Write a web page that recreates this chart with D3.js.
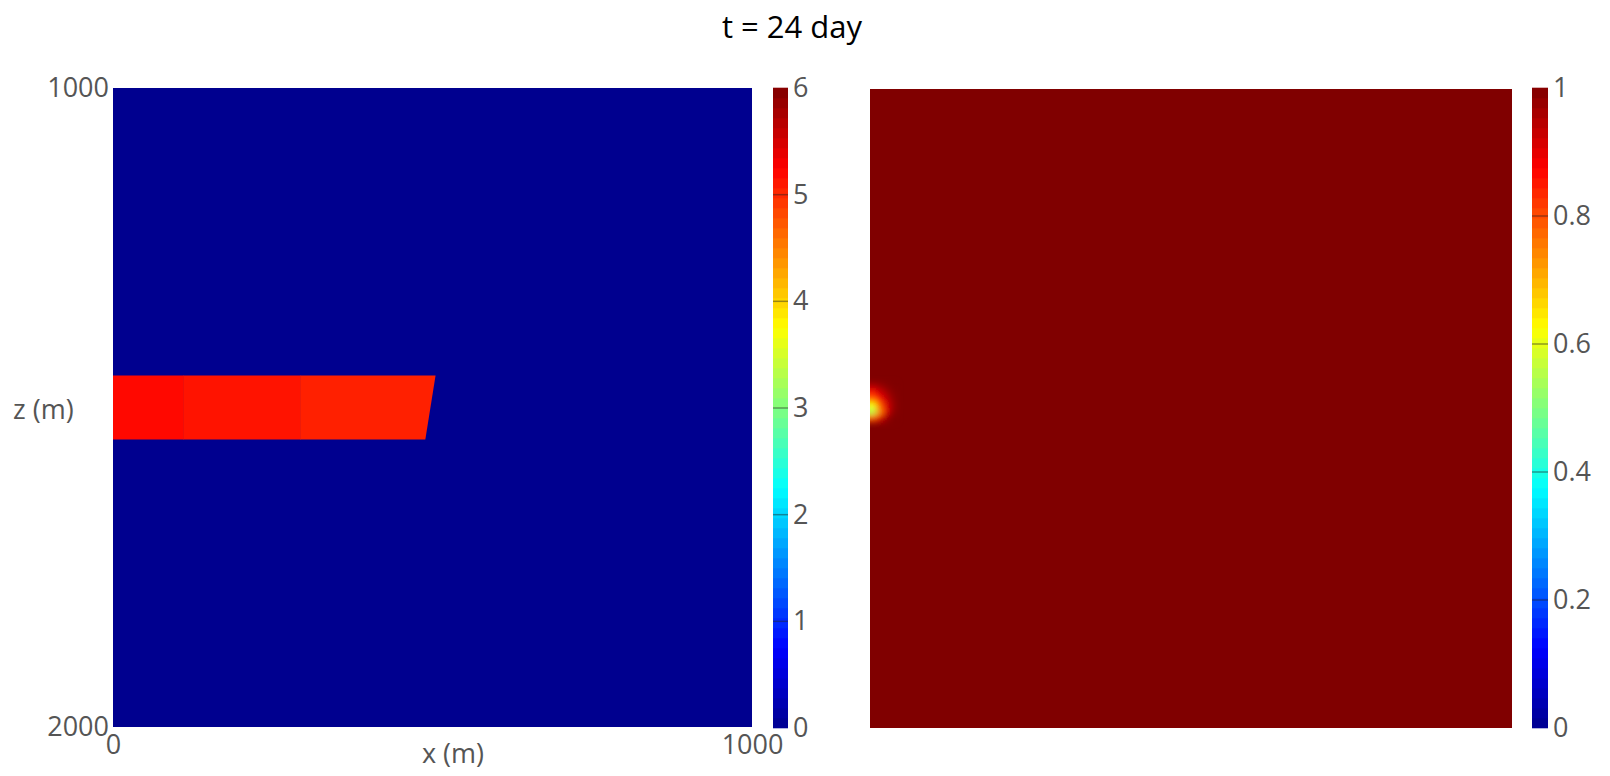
<!DOCTYPE html>
<html>
<head>
<meta charset="utf-8">
<title>t = 24 day</title>
<script src="https://d3js.org/d3.v7.min.js"></script>
<style>
  body { margin: 0; background: #fff; }
  .tick text, .axis-label { font-family: "Open Sans", sans-serif; font-size: 27px; fill: #555; }
  .domain { display: none; }
  .title { font-family: "Open Sans", sans-serif; font-size: 31px; fill: #000; }
</style>
</head>
<body>
<svg id="chart" width="1610" height="776"></svg>
<script>
// ---- data ----
var titleText = "t = 24 day";
var xDomain = [0, 1000];          // x (m)
var zDomain = [1000, 2000];       // z (m), top -> bottom
var xTicks = [0, 1000];
var zTicks = [1000, 2000];

// left panel: field value (0..6), background value and the injected band
var leftBackground = 0;
var leftRange = [0, 6];
var leftCbTicks = [0, 1, 2, 3, 4, 5, 6];
var bandZ = [1450, 1550];
var bandX0 = [0, 110, 293];
var bandX1Top = [110, 293, 504];
var bandX1Bottom = [110, 293, 488];
var bandValues = [5.2, 5.14, 5.06];

// right panel: saturation (0..1), background 1 plus a small disturbed patch
var rightBackground = 1;
var rightRange = [0, 1];
var rightCbTicks = [0, 0.2, 0.4, 0.6, 0.8, 1];
var satX = [0, 10, 20, 30];                   // cell left edges (m), 10 m wide
var satZ = [1460, 1470, 1480, 1490, 1500, 1510]; // cell top edges (m), 10 m tall
var satValues = [
  [0.95, 0.97, 0.99, 1.0],
  [0.86, 0.92, 0.96, 0.99],
  [0.78, 0.86, 0.93, 0.98],
  [0.62, 0.78, 0.9, 0.97],
  [0.55, 0.74, 0.9, 0.98],
  [0.78, 0.9, 0.97, 1.0]
];

// ---- jet colormap (matlab style) ----
var jet = d3.scaleLinear()
  .domain([0, 0.125, 0.375, 0.625, 0.875, 1])
  .range(["#00008f", "#0000ff", "#00ffff", "#ffff00", "#ff0000", "#800000"])
  .clamp(true);

var svg = d3.select("#chart");

svg.append("text").attr("class", "title")
  .attr("x", 792).attr("y", 38).attr("text-anchor", "middle")
  .text(titleText);

var defs = svg.append("defs");
defs.append("filter").attr("id", "soft")
  .attr("x", "-50%").attr("y", "-50%").attr("width", "200%").attr("height", "200%")
  .append("feGaussianBlur").attr("stdDeviation", 3);

function panel(left, right, top, bottom, id) {
  var x = d3.scaleLinear().domain(xDomain).range([left, right]);
  var z = d3.scaleLinear().domain(zDomain).range([top, bottom]);
  defs.append("clipPath").attr("id", id)
    .append("rect").attr("x", left).attr("y", top)
    .attr("width", right - left).attr("height", bottom - top);
  var g = svg.append("g").attr("clip-path", "url(#" + id + ")");
  return {x: x, z: z, g: g};
}

function colorbar(x0, x1, top, bottom, range, ticks) {
  var n = 64;
  var y = d3.scaleLinear().domain(range).range([bottom, top]);
  var band = d3.scaleBand().domain(d3.range(n)).range([bottom, top]);
  var g = svg.append("g");
  g.selectAll("rect").data(d3.range(n)).enter().append("rect")
    .attr("x", x0).attr("width", x1 - x0)
    .attr("y", function(d) { return band(d) - 0.3; })
    .attr("height", band.bandwidth() + 0.6)
    .attr("fill", function(d) { return jet((d + 0.5) / n); });
  g.selectAll("line").data(ticks.slice(1, -1)).enter().append("line")
    .attr("x1", x0).attr("x2", x1)
    .attr("y1", function(d) { return y(d); }).attr("y2", function(d) { return y(d); })
    .attr("stroke", "#222").attr("stroke-opacity", 0.45).attr("stroke-width", 1.5);
  svg.append("g").attr("transform", "translate(" + (x1 + 1) + ",0)")
    .call(d3.axisRight(y).tickValues(ticks).tickSize(0).tickPadding(4)
      .tickFormat(d3.format("~g")));
}

// ---- left panel ----
var L = panel(113, 752, 88, 727, "clipL");
var lnorm = d3.scaleLinear().domain(leftRange).range([0, 1]);
L.g.append("rect").attr("x", L.x(0)).attr("y", L.z(1000))
  .attr("width", L.x(1000) - L.x(0)).attr("height", L.z(2000) - L.z(1000))
  .attr("fill", jet(lnorm(leftBackground)));
L.g.selectAll("polygon").data(bandValues).enter().append("polygon")
  .attr("points", function(d, i) {
    return [[L.x(bandX0[i]), L.z(bandZ[0])], [L.x(bandX1Top[i]) + 0.5, L.z(bandZ[0])],
            [L.x(bandX1Bottom[i]) + 0.5, L.z(bandZ[1])], [L.x(bandX0[i]), L.z(bandZ[1])]].join(" ");
  })
  .attr("fill", function(d) { return jet(lnorm(d)); });

svg.append("g").attr("transform", "translate(113,0)")
  .call(d3.axisLeft(L.z).tickValues(zTicks).tickSize(0).tickPadding(4).tickFormat(d3.format("d")));
svg.append("g").attr("transform", "translate(0,727)")
  .call(d3.axisBottom(L.x).tickValues(xTicks).tickSize(0).tickPadding(8).tickFormat(d3.format("d")));
svg.append("text").attr("class", "axis-label").attr("x", 453).attr("y", 763)
  .attr("text-anchor", "middle").text("x (m)");
svg.append("text").attr("class", "axis-label").attr("x", 13).attr("y", 419)
  .text("z (m)");

colorbar(773, 788, 88, 728, leftRange, leftCbTicks);

// ---- right panel ----
var R = panel(870, 1512, 89, 728, "clipR");
var rnorm = d3.scaleLinear().domain(rightRange).range([0, 1]);
R.g.append("rect").attr("x", R.x(0)).attr("y", R.z(1000))
  .attr("width", R.x(1000) - R.x(0)).attr("height", R.z(2000) - R.z(1000))
  .attr("fill", jet(rnorm(rightBackground)));
var cells = [];
satValues.forEach(function(row, i) {
  row.forEach(function(v, j) { cells.push({x: satX[j], z: satZ[i], v: v}); });
});
R.g.append("g").attr("filter", "url(#soft)")
  .selectAll("rect").data(cells).enter().append("rect")
  .attr("x", function(d) { return R.x(d.x) - (d.x === 0 ? 6 : 0); })
  .attr("y", function(d) { return R.z(d.z); })
  .attr("width", function(d) { return R.x(d.x + 10) - R.x(d.x) + (d.x === 0 ? 6 : 0) + 0.5; })
  .attr("height", function(d) { return R.z(d.z + 10) - R.z(d.z) + 0.5; })
  .attr("fill", function(d) { return jet(rnorm(d.v)); });

colorbar(1532, 1548, 88, 728, rightRange, rightCbTicks);
</script>
</body>
</html>
